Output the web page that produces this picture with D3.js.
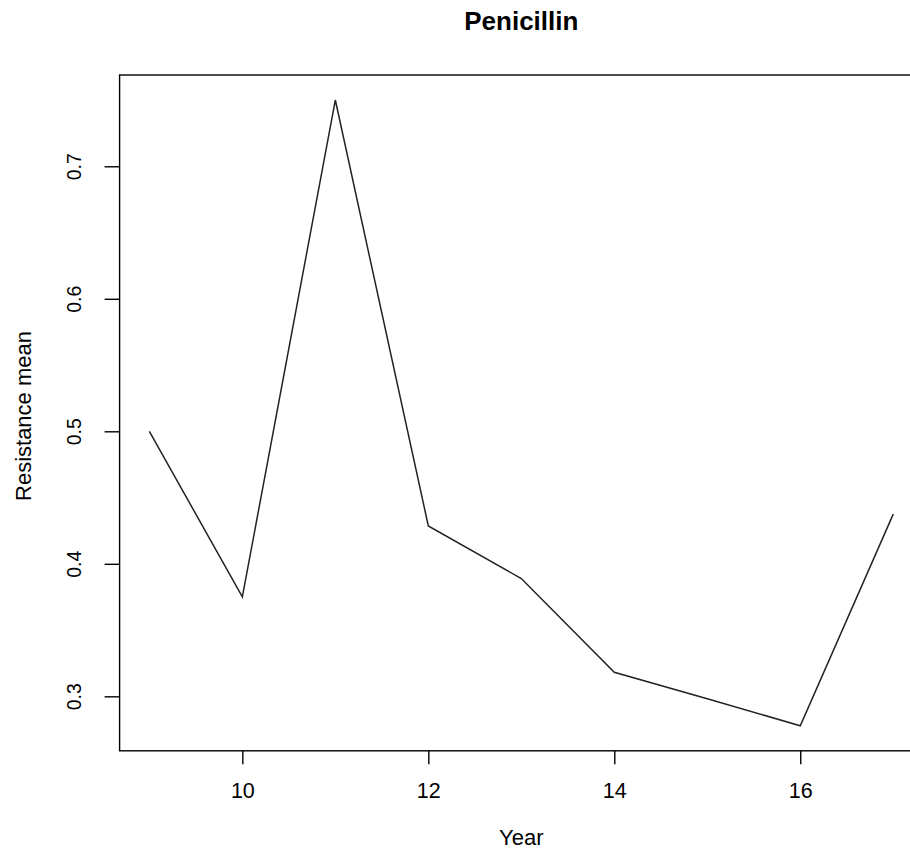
<!DOCTYPE html>
<html><head><meta charset="utf-8">
<script src="https://cdn.jsdelivr.net/npm/d3@7"></script>
<style>html,body{margin:0;padding:0;background:#fff;overflow:hidden;} svg text{font-family:"Liberation Sans",Arial,sans-serif;fill:#000;}</style>
</head><body>
<script>
const years = [9, 10, 11, 12, 13, 14, 15, 16, 17];
const resistance = [0.5, 0.375, 0.75, 0.4286, 0.3889, 0.3182, 0.2982, 0.2778, 0.4375];
const xTicks = [10, 12, 14, 16];
const yTicks = [0.3, 0.4, 0.5, 0.6, 0.7];
const title = "Penicillin";
const xLabel = "Year";
const yLabel = "Resistance mean";

const W = 910, H = 851;
const svg = d3.select("body").append("svg").attr("width", W).attr("height", H);

const x = d3.scaleLinear().domain([8.68, 17.32]).range([119.6, 923]);
const y = d3.scaleLinear().domain([0.25889, 0.76889]).range([750.8, 75]);

// box
svg.append("rect").attr("x", x(8.68)).attr("y", y(0.76889))
  .attr("width", x(17.32) - x(8.68)).attr("height", y(0.25889) - y(0.76889))
  .attr("fill", "none").attr("stroke", "#000").attr("stroke-width", 1.4);

const xAxis = svg.append("g").attr("transform", `translate(0,${y(0.25889)})`)
  .call(d3.axisBottom(x).tickValues(xTicks).tickFormat(d3.format("d")).tickSize(13.5).tickPadding(0));
xAxis.select(".domain").remove();
xAxis.selectAll("line").attr("stroke-width", 1.4);
xAxis.selectAll("text")
  .attr("font-size", 21.5).attr("font-family", "Liberation Sans, Arial, sans-serif")
  .attr("y", 47).attr("dy", null);

const yAxis = svg.append("g").attr("transform", `translate(${x(8.68)},0)`)
  .call(d3.axisLeft(y).tickValues(yTicks).tickFormat(d3.format(".1f")).tickSize(15).tickPadding(0));
yAxis.select(".domain").remove();
yAxis.selectAll("line").attr("stroke-width", 1.4);
yAxis.selectAll("text")
  .attr("font-size", 19.5).attr("font-family", "Liberation Sans, Arial, sans-serif")
  .attr("x", null).attr("dy", null)
  .attr("text-anchor", "middle")
  .attr("transform", "translate(-39,0) rotate(-90)");

const line = d3.line().x((d, i) => x(years[i])).y(d => y(d));
svg.append("path").datum(resistance).attr("d", line)
  .attr("fill", "none").attr("stroke", "#222").attr("stroke-width", 1.5);

svg.append("text").attr("x", x(13)).attr("y", 30).attr("text-anchor", "middle")
  .attr("font-size", 26).attr("font-weight", "bold").text(title);
svg.append("text").attr("x", x(13)).attr("y", 845).attr("text-anchor", "middle")
  .attr("font-size", 22).text(xLabel);
svg.append("text").attr("transform", `translate(31,416) rotate(-90)`)
  .attr("text-anchor", "middle").attr("font-size", 22).text(yLabel);
</script>
</body></html>
